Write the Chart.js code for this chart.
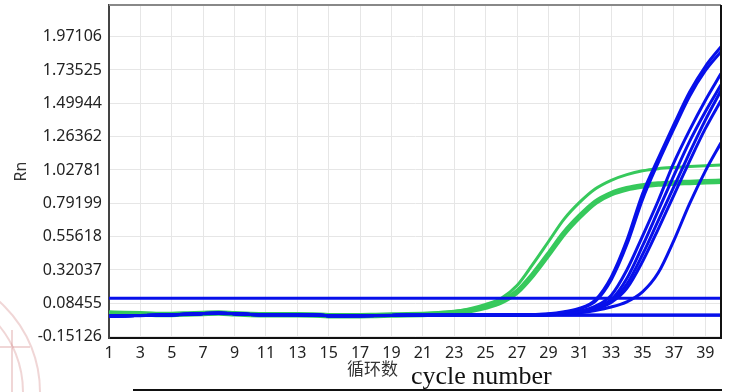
<!DOCTYPE html>
<html>
<head>
<meta charset="utf-8">
<script src="https://cdn.jsdelivr.net/npm/chart.js@4.4.1/dist/chart.umd.min.js"></script>
<style>
  html, body { margin: 0; padding: 0; background: #fff; }
  #wrap { position: relative; width: 733px; height: 392px; overflow: hidden; background: #fff; }
  #chartCanvas { position: absolute; left: 0; top: 0; }
  .lbl-cn { position: absolute; left: 347px; top: 359px; font: 17px/17px "Noto Sans CJK SC", sans-serif; color: #333; white-space: nowrap; }
  .lbl-en { position: absolute; left: 411px; top: 363px; font: 26px/26px "Liberation Serif", serif; color: #111; white-space: nowrap; }
  .rule { position: absolute; left: 133px; top: 389px; width: 589px; height: 2px; background: #111; }
</style>
</head>
<body>
<div id="wrap">
  <canvas id="chartCanvas" width="733" height="392"></canvas>
  <div class="lbl-cn">循环数</div>
  <div class="lbl-en">cycle number</div>
  <div class="rule"></div>
</div>
<script>
// ciclos (eje X)
const cycles = [1,2,3,4,5,6,7,8,9,10,11,12,13,14,15,16,17,18,19,20,21,22,23,24,25,26,27,28,29,30,31,32,33,34,35,36,37,38,39,40];
const xTickLabels = [1,3,5,7,9,11,13,15,17,19,21,23,25,27,29,31,33,35,37,39];
const yTickLabels = ['-0.15126','0.08455','0.32037','0.55618','0.79199','1.02781','1.26362','1.49944','1.73525','1.97106'];

// umbral
const thresholdX = [1, 40];
const thresholdY = [0.12, 0.12];

// curvas azules (amplificación)
const blue1 = [-0.005,-0.004,-0.002,0.0,0.003,0.007,0.012,0.014,0.011,0.006,0.004,0.004,0.003,0.001,-0.003,-0.004,-0.003,-0.002,-0.001,0.0,0.0,0.0,0.0,0.001,0.001,0.002,0.003,0.005,0.01,0.025,0.05,0.11,0.27,0.53,0.86,1.11,1.35,1.58,1.76,1.90];
const blue2 = [-0.005,-0.004,-0.002,0.0,0.003,0.007,0.012,0.014,0.011,0.006,0.004,0.004,0.003,0.001,-0.003,-0.004,-0.003,-0.002,-0.001,0.0,0.0,0.0,0.0,0.001,0.001,0.002,0.003,0.004,0.008,0.02,0.045,0.1,0.25,0.5,0.82,1.08,1.32,1.55,1.73,1.865];
const blue3 = [-0.005,-0.004,-0.002,0.0,0.003,0.007,0.012,0.014,0.011,0.006,0.004,0.004,0.003,0.001,-0.003,-0.004,-0.003,-0.002,-0.001,0.0,0.0,0.0,0.0,0.0,0.001,0.001,0.002,0.003,0.006,0.015,0.03,0.065,0.14,0.32,0.56,0.81,1.08,1.31,1.52,1.71];
const blue4 = [-0.005,-0.004,-0.002,0.0,0.003,0.007,0.012,0.014,0.011,0.006,0.004,0.004,0.003,0.001,-0.003,-0.004,-0.003,-0.002,-0.001,0.0,0.0,0.0,0.0,0.0,0.001,0.001,0.002,0.003,0.005,0.012,0.025,0.055,0.11,0.26,0.49,0.74,0.99,1.23,1.44,1.63];
const blue5 = [-0.005,-0.004,-0.002,0.0,0.003,0.007,0.012,0.014,0.011,0.006,0.004,0.004,0.003,0.001,-0.003,-0.004,-0.003,-0.002,-0.001,0.0,0.0,0.0,0.0,0.0,0.0,0.001,0.001,0.002,0.004,0.01,0.022,0.048,0.1,0.22,0.43,0.67,0.91,1.15,1.38,1.59];
const blue6 = [-0.005,-0.004,-0.002,0.0,0.003,0.007,0.012,0.014,0.011,0.006,0.004,0.004,0.003,0.001,-0.003,-0.004,-0.003,-0.002,-0.001,0.0,0.0,0.0,0.0,0.0,0.0,0.001,0.001,0.002,0.003,0.008,0.02,0.042,0.09,0.19,0.38,0.61,0.85,1.09,1.32,1.52];
const blue7 = [-0.005,-0.004,-0.002,0.0,0.003,0.007,0.012,0.014,0.011,0.006,0.004,0.004,0.003,0.001,-0.003,-0.004,-0.003,-0.002,-0.001,0.0,0.0,0.0,0.0,0.0,0.0,0.0,0.001,0.001,0.003,0.008,0.018,0.034,0.058,0.095,0.165,0.3,0.53,0.79,1.02,1.22];
// negativos planos
const flat1 = [-0.006,-0.005,-0.003,-0.001,0.002,0.006,0.011,0.013,0.01,0.005,0.003,0.003,0.002,0.0,-0.004,-0.005,-0.004,-0.003,-0.002,-0.001,-0.001,-0.001,0.0,0.0,0.0,0.0,0.0,0.0,0.0,0.0,0.0,0.0,0.0,0.0,0.0,0.0,0.0,0.0,0.0,0.0];
const flat2 = [-0.004,-0.003,-0.001,0.001,0.004,0.008,0.013,0.015,0.012,0.007,0.005,0.005,0.004,0.002,-0.002,-0.003,-0.002,-0.001,0.0,0.001,0.001,0.001,0.001,0.002,0.002,0.002,0.002,0.002,0.002,0.002,0.002,0.002,0.002,0.002,0.002,0.002,0.002,0.002,0.002,0.002];

// curvas verdes
const green1 = [0.018,0.016,0.012,0.008,0.007,0.01,0.014,0.016,0.011,0.007,0.005,0.005,0.004,0.002,-0.002,-0.003,-0.002,0.0,0.002,0.005,0.009,0.016,0.027,0.046,0.076,0.12,0.21,0.36,0.52,0.68,0.8,0.895,0.955,0.995,1.022,1.037,1.046,1.053,1.058,1.063];
const green2 = [0.015,0.013,0.01,0.006,0.006,0.009,0.013,0.015,0.01,0.006,0.004,0.004,0.003,0.001,-0.003,-0.004,-0.003,-0.001,0.001,0.003,0.006,0.011,0.019,0.033,0.057,0.095,0.165,0.285,0.43,0.58,0.70,0.80,0.86,0.895,0.915,0.928,0.935,0.94,0.945,0.948];

const AZUL = '#0710ea';
const VERDE = '#36c95c';

function puntos(valores, xs = cycles) {
  return valores.map((v, i) => ({ x: xs[i], y: v }));
}

function serie(valores, color, ancho, xs) {
  return {
    data: puntos(valores, xs),
    borderColor: color,
    borderWidth: ancho,
    pointRadius: 0,
    fill: false,
    cubicInterpolationMode: 'monotone'
  };
}

const datasets = [
  serie(thresholdY, AZUL, 3, thresholdX),
  serie(blue1, AZUL, 3),
  serie(blue2, AZUL, 3),
  serie(blue3, AZUL, 3),
  serie(blue4, AZUL, 3),
  serie(blue5, AZUL, 3),
  serie(blue6, AZUL, 3),
  serie(blue7, AZUL, 3),
  serie(flat1, AZUL, 3),
  serie(flat2, AZUL, 3),
  serie(green1, VERDE, 3),
  serie(green2, VERDE, 5.5)
];

// marco del área y marca de agua
const marcoPlugin = {
  id: 'marco',
  beforeDraw(chart) {
    const { ctx } = chart;
    ctx.save();
    ctx.fillStyle = '#fff';
    ctx.fillRect(0, 0, chart.width, chart.height);
    ctx.strokeStyle = 'rgba(205, 120, 120, 0.3)';
    ctx.lineWidth = 2;
    ctx.beginPath();
    ctx.arc(-81, 392, 121, -Math.PI / 2, 0);
    ctx.stroke();
    ctx.beginPath();
    ctx.arc(-81, 392, 104, -Math.PI / 2, 0);
    ctx.stroke();
    ctx.beginPath();
    ctx.moveTo(0, 347);
    ctx.lineTo(30, 347);
    ctx.moveTo(12, 330);
    ctx.lineTo(12, 392);
    ctx.stroke();
    ctx.restore();
  },
  afterDatasetsDraw(chart) {
    const { ctx, chartArea: a } = chart;
    ctx.save();
    ctx.lineWidth = 2;
    ctx.strokeStyle = '#888';
    ctx.beginPath();
    ctx.moveTo(a.left, a.top);
    ctx.lineTo(a.right, a.top);
    ctx.stroke();
    ctx.strokeStyle = '#111';
    ctx.beginPath();
    ctx.moveTo(a.right, a.top);
    ctx.lineTo(a.right, a.bottom);
    ctx.stroke();
    ctx.restore();
  }
};

new Chart(document.getElementById('chartCanvas'), {
  type: 'line',
  data: { datasets },
  options: {
    responsive: false,
    animation: false,
    layout: { padding: { left: 0, right: 12, top: 5, bottom: 0 } },
    plugins: { legend: { display: false }, tooltip: { enabled: false } },
    scales: {
      x: {
        type: 'linear',
        min: 1,
        max: 40,
        afterFit: (s) => { s.height = 54; s.paddingLeft = 0; s.paddingRight = 0; },
        afterBuildTicks: (s) => { s.ticks = xTickLabels.map((v) => ({ value: v })); },
        grid: { color: '#e6e6e6', lineWidth: 1, drawTicks: false },
        border: { color: '#111', width: 2 },
        ticks: {
          color: '#222',
          font: { family: 'Noto Sans', size: 16 },
          padding: 6,
          maxRotation: 0,
          autoSkip: false,
          callback: (v) => String(v)
        }
      },
      y: {
        type: 'linear',
        min: -0.161,
        max: 2.195,
        afterFit: (s) => { s.width = 109; s.paddingTop = 0; s.paddingBottom = 0; },
        afterBuildTicks: (s) => { s.ticks = yTickLabels.map((t) => ({ value: parseFloat(t) })); },
        grid: { color: '#e6e6e6', lineWidth: 1, drawTicks: false },
        border: { color: '#444', width: 2 },
        ticks: {
          color: '#222',
          font: { family: 'Noto Sans', size: 16 },
          padding: 7,
          autoSkip: false,
          callback: (v, i) => yTickLabels[i]
        },
        title: {
          display: true,
          text: 'Rn',
          color: '#333',
          font: { family: 'Noto Sans', size: 16 },
          padding: { top: 12, bottom: 0 }
        }
      }
    }
  },
  plugins: [marcoPlugin]
});
</script>
</body>
</html>
